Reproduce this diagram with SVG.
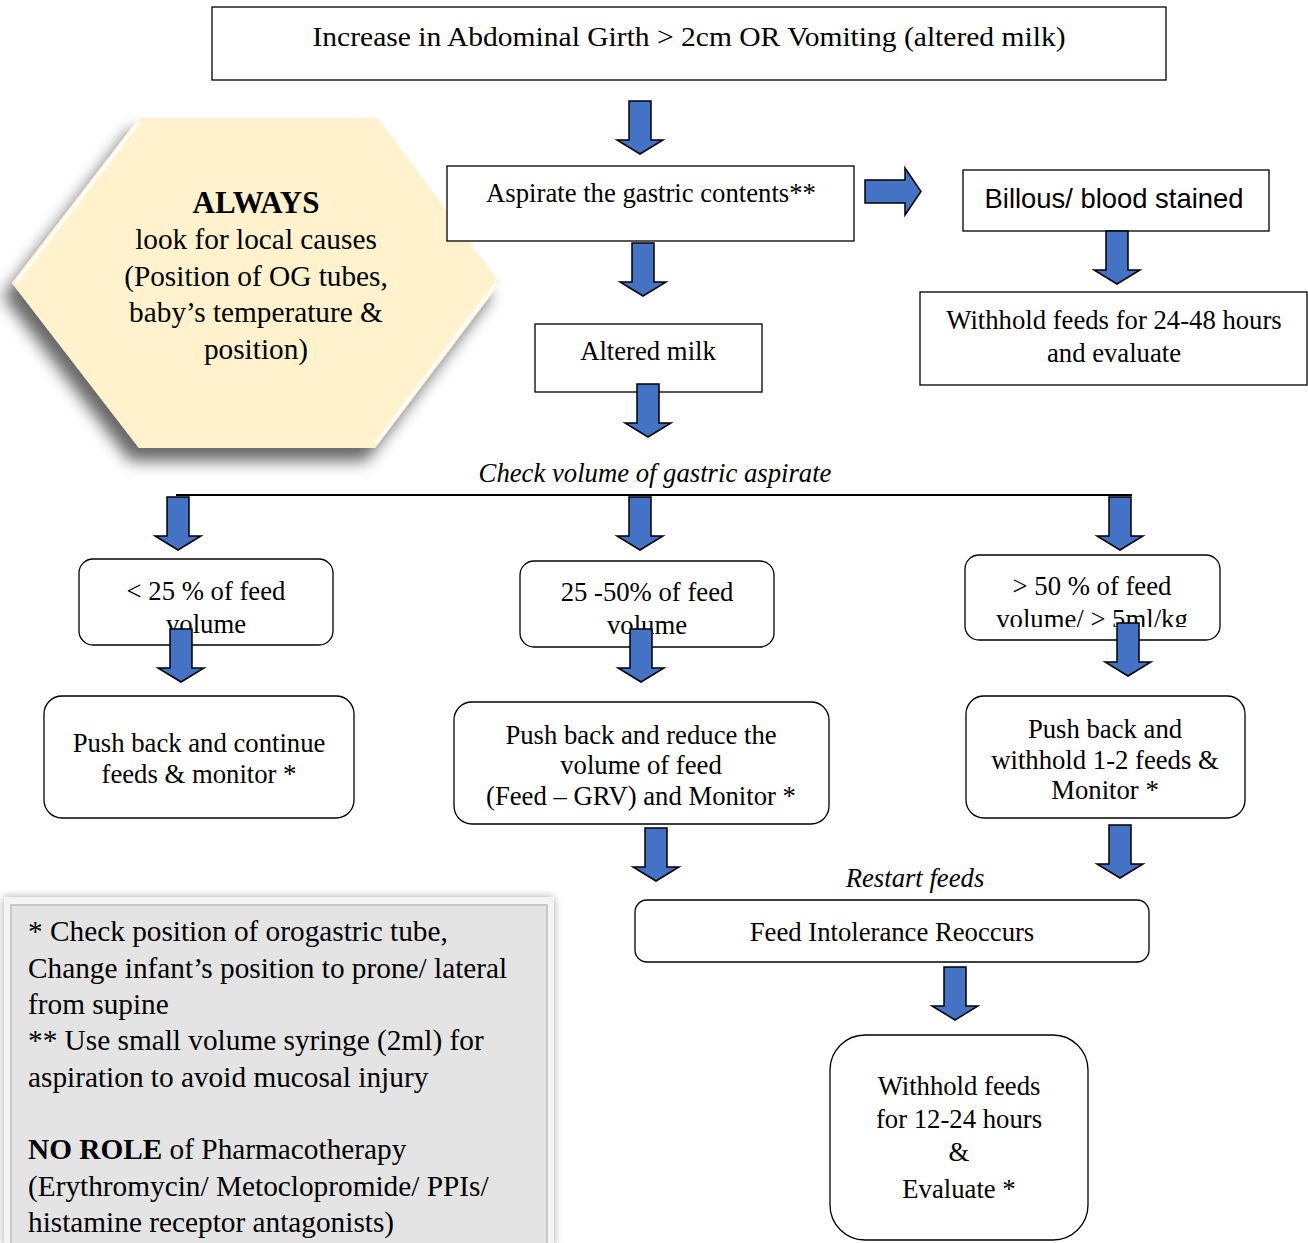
<svg xmlns="http://www.w3.org/2000/svg" width="1308" height="1243" viewBox="0 0 1308 1243">
  <style>
    .t { font-family: "Liberation Serif", "Times New Roman", serif; fill: #000; font-size: 26.7px; }
    .s { font-family: "Liberation Sans", Arial, sans-serif; fill: #000; }
    .big { font-size: 29.3px; }
    .head { font-size: 31px; font-weight: bold; }
    .box { fill: #fff; stroke: #000; stroke-width: 1.3; }
    .rbox { fill: #fff; stroke: #000; stroke-width: 1.3; }
    .arrow { fill: #4472C4; stroke: #000; stroke-width: 1.5; stroke-linejoin: miter; }
  </style>
  <defs>
    <!-- block down-arrow, origin at top centre of the shaft -->
    <path id="down" class="arrow" d="M-11,0 H11 V39 H23 L0,53 L-23,39 H-11 Z"/>
    <filter id="hexShadow" x="-20%" y="-20%" width="140%" height="150%">
      <feGaussianBlur in="SourceAlpha" stdDeviation="8"/>
      <feOffset dx="-9" dy="13" result="b"/>
      <feComponentTransfer><feFuncA type="linear" slope="0.6"/></feComponentTransfer>
      <feMerge><feMergeNode/><feMergeNode in="SourceGraphic"/></feMerge>
    </filter>
    <filter id="noteShadow" x="-10%" y="-10%" width="120%" height="120%">
      <feGaussianBlur in="SourceAlpha" stdDeviation="4"/>
      <feComponentTransfer><feFuncA type="linear" slope="0.35"/></feComponentTransfer>
      <feMerge><feMergeNode/><feMergeNode in="SourceGraphic"/></feMerge>
    </filter>
    <clipPath id="clipGt50"><rect x="960" y="550" width="270" height="77"/></clipPath>
  </defs>

  <rect width="1308" height="1243" fill="#fff"/>

  <!-- hexagon reminder -->
  <g id="always">
    <polygon points="12,283 139,118 378,118 500,283 375,448 139,448" fill="#FFF2CC" filter="url(#hexShadow)"/>
    <polyline points="16,283 139,122" fill="none" stroke="#fff" stroke-width="3" opacity="0.9"/>
    <polyline points="496,283 375,444" fill="none" stroke="#fff" stroke-width="3" opacity="0.9"/>
    <text class="t head" x="256" y="213" text-anchor="middle">ALWAYS</text>
    <text class="t big" x="256" y="249" text-anchor="middle">look for local causes</text>
    <text class="t big" x="256" y="286" text-anchor="middle">(Position of OG tubes,</text>
    <text class="t big" x="256" y="322" text-anchor="middle">baby’s temperature &amp;</text>
    <text class="t big" x="256" y="359" text-anchor="middle">position)</text>
  </g>

  <!-- nodes -->
  <g id="start">
    <rect class="box" x="212" y="7" width="954" height="73"/>
    <text class="t" x="689" y="46" text-anchor="middle" textLength="753" lengthAdjust="spacingAndGlyphs">Increase in Abdominal Girth &gt; 2cm OR Vomiting (altered milk)</text>
  </g>
  <g id="aspirate">
    <rect class="box" x="447" y="166" width="407" height="75"/>
    <text class="t" x="651" y="202" text-anchor="middle">Aspirate the gastric contents**</text>
  </g>
  <g id="billous">
    <rect class="box" x="963" y="170" width="306" height="61"/>
    <text class="s" x="1114" y="208" text-anchor="middle" font-size="27.4">Billous/ blood stained</text>
  </g>
  <g id="withhold-24-48">
    <rect class="box" x="920" y="292" width="387" height="93"/>
    <text class="t" x="1114" y="329" text-anchor="middle">Withhold feeds for 24-48 hours</text>
    <text class="t" x="1114" y="362" text-anchor="middle">and evaluate</text>
  </g>
  <g id="altered-milk">
    <rect class="box" x="535" y="324" width="227" height="68"/>
    <text class="t" x="648" y="360" text-anchor="middle">Altered milk</text>
  </g>

  <text id="check-volume" class="t" x="655" y="482" text-anchor="middle" font-style="italic">Check volume of gastric aspirate</text>

  <g id="lt25">
    <rect class="rbox" x="79" y="559" width="254" height="86" rx="14"/>
    <text class="t" x="206" y="600" text-anchor="middle">&lt; 25 % of feed</text>
    <text class="t" x="206" y="633" text-anchor="middle">volume</text>
  </g>
  <g id="mid25-50">
    <rect class="rbox" x="520" y="561" width="254" height="86" rx="14"/>
    <text class="t" x="647" y="601" text-anchor="middle">25 -50% of feed</text>
    <text class="t" x="647" y="634" text-anchor="middle">volume</text>
  </g>
  <g id="gt50">
    <rect class="rbox" x="965" y="555" width="255" height="85" rx="14"/>
    <text class="t" x="1092" y="595" text-anchor="middle">&gt; 50 % of feed</text>
    <text class="t" x="1092" y="628" text-anchor="middle" clip-path="url(#clipGt50)">volume/ &gt; 5ml/kg</text>
  </g>

  <g id="continue">
    <rect class="rbox" x="44" y="696" width="310" height="122" rx="18"/>
    <text class="t" x="199" y="752" text-anchor="middle">Push back and continue</text>
    <text class="t" x="199" y="783" text-anchor="middle">feeds &amp; monitor *</text>
  </g>
  <g id="reduce">
    <rect class="rbox" x="454" y="702" width="375" height="122" rx="18"/>
    <text class="t" x="641" y="744" text-anchor="middle">Push back and reduce the</text>
    <text class="t" x="641" y="774" text-anchor="middle">volume of feed</text>
    <text class="t" x="641" y="805" text-anchor="middle">(Feed – GRV) and Monitor *</text>
  </g>
  <g id="withhold-1-2">
    <rect class="rbox" x="966" y="696" width="279" height="122" rx="18"/>
    <text class="t" x="1105" y="738" text-anchor="middle">Push back and</text>
    <text class="t" x="1105" y="769" text-anchor="middle">withhold 1-2 feeds &amp;</text>
    <text class="t" x="1105" y="799" text-anchor="middle">Monitor *</text>
  </g>

  <text id="restart" class="t" x="915" y="887" text-anchor="middle" font-style="italic">Restart feeds</text>
  <g id="reoccurs">
    <rect class="rbox" x="635" y="900" width="514" height="62" rx="12"/>
    <text class="t" x="892" y="941" text-anchor="middle">Feed Intolerance Reoccurs</text>
  </g>
  <g id="withhold-12-24">
    <rect class="rbox" x="830" y="1035" width="258" height="205" rx="35"/>
    <text class="t" x="959" y="1095" text-anchor="middle">Withhold feeds</text>
    <text class="t" x="959" y="1128" text-anchor="middle">for 12-24 hours</text>
    <text class="t" x="959" y="1161" text-anchor="middle">&amp;</text>
    <text class="t" x="959" y="1198" text-anchor="middle">Evaluate *</text>
  </g>

  <!-- footnote panel -->
  <g id="notes">
    <rect x="4" y="897" width="550" height="350" fill="#F4F4F4" filter="url(#noteShadow)"/>
    <rect x="11" y="905" width="536" height="340" fill="#E4E4E4" stroke="#C8C8C8" stroke-width="2"/>
    <text class="t big">
      <tspan x="28" y="941">* Check position of orogastric tube,</tspan>
      <tspan x="28" y="978">Change infant’s position to prone/ lateral</tspan>
      <tspan x="28" y="1014">from supine</tspan>
      <tspan x="28" y="1050">** Use small volume syringe (2ml) for</tspan>
      <tspan x="28" y="1087">aspiration to avoid mucosal injury</tspan>
      <tspan x="28" y="1159"><tspan font-weight="bold">NO ROLE</tspan> of Pharmacotherapy</tspan>
      <tspan x="28" y="1196">(Erythromycin/ Metoclopromide/ PPIs/</tspan>
      <tspan x="28" y="1232">histamine receptor antagonists)</tspan>
    </text>
  </g>

  <!-- connectors -->
  <g id="connectors">
    <line x1="176" y1="495" x2="1132" y2="495" stroke="#000" stroke-width="2"/>
    <use href="#down" transform="translate(640,101)"/>
    <use href="#down" transform="translate(643,243)"/>
    <use href="#down" transform="translate(648,384)"/>
    <path class="arrow" d="M865,180 H905 V168 L921,191.5 L905,215 V203 H865 Z"/>
    <use href="#down" transform="translate(1117,231)"/>
    <use href="#down" transform="translate(178,497)"/>
    <use href="#down" transform="translate(640,497)"/>
    <use href="#down" transform="translate(1120,497)"/>
    <use href="#down" transform="translate(181,629)"/>
    <use href="#down" transform="translate(641,629)"/>
    <use href="#down" transform="translate(1128,623)"/>
    <use href="#down" transform="translate(656,828)"/>
    <use href="#down" transform="translate(1120,825)"/>
    <use href="#down" transform="translate(955,967)"/>
  </g>
</svg>
